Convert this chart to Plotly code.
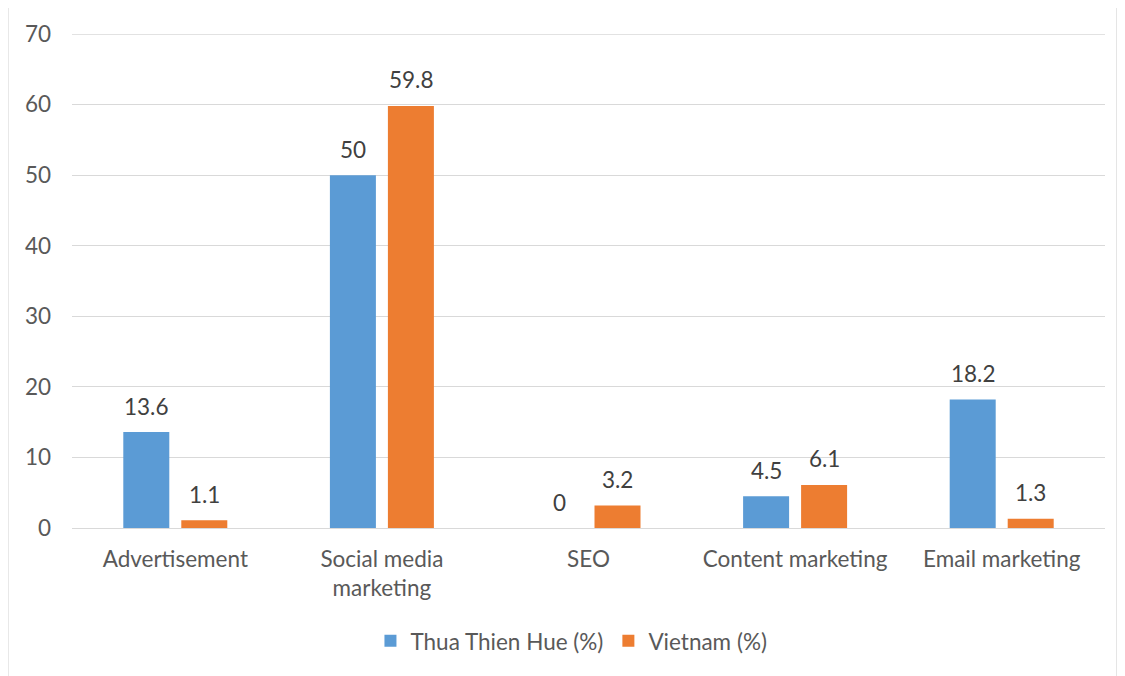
import plotly.graph_objects as go

categories = ["Advertisement", "Social media<br>marketing", "SEO", "Content marketing", "Email marketing"]
hue_values = [13.6, 50, 0, 4.5, 18.2]
vietnam_values = [1.1, 59.8, 3.2, 6.1, 1.3]
series_names = ["Thua Thien Hue (%)", "Vietnam (%)"]
y_ticks = [0, 10, 20, 30, 40, 50, 60, 70]

FONT = "Lato"
FS = 22.5
fig = go.Figure()
series = [(series_names[0], hue_values, "#5b9bd5", -29), (series_names[1], vietnam_values, "#ed7d31", 29)]
for name, vals, color, dx in series:
    fig.add_trace(go.Bar(
        x=categories, y=vals, name=name,
        marker=dict(color=color, line=dict(width=0)),
        cliponaxis=False,
    ))
    for c, v in zip(categories, vals):
        fig.add_annotation(x=c, y=v, text=f"{v:g}", showarrow=False, xshift=dx, yshift=26,
                           yanchor="middle", font=dict(family=FONT, size=FS, color="#404040"))

fig.update_layout(
    width=1125, height=676,
    margin=dict(l=64, r=28, t=26, b=156, autoexpand=False),
    paper_bgcolor="white", plot_bgcolor="white",
    barmode="group", bargap=0.4385, bargroupgap=0.207,
    font=dict(family=FONT, size=FS, color="#595959"),
    showlegend=True,
    legend=dict(orientation="h", x=0.4835, xanchor="center", y=-0.229, yanchor="middle",
                font=dict(family=FONT, size=FS, color="#595959"), itemwidth=30,
                traceorder="normal"),
)
fig.update_yaxes(range=[0, 70], tickvals=y_ticks, showgrid=True, gridcolor="#d9d9d9", gridwidth=1.3,
                 zeroline=False, showline=False, ticklabelstandoff=20, automargin=False,
                 tickfont=dict(family=FONT, size=FS, color="#595959"))
fig.update_xaxes(showline=True, linecolor="#d9d9d9", linewidth=1.3, ticks="", ticklabelstandoff=11,
                 automargin=False,
                 tickfont=dict(family=FONT, size=FS, color="#595959"))
# top gridline (plotly drops gridlines lying on the plot edge)
fig.add_shape(type="line", xref="paper", yref="y", x0=0, x1=1, y0=y_ticks[-1], y1=y_ticks[-1],
              line=dict(color="#d9d9d9", width=1.3), layer="below")
fig.add_shape(type="rect", xref="paper", yref="paper", x0=-0.062, x1=1.0116, y0=-0.31, y1=1.0587,
              line=dict(color="#d9d9d9", width=1.3), fillcolor="rgba(0,0,0,0)", layer="below")
fig.write_html("out.html")
